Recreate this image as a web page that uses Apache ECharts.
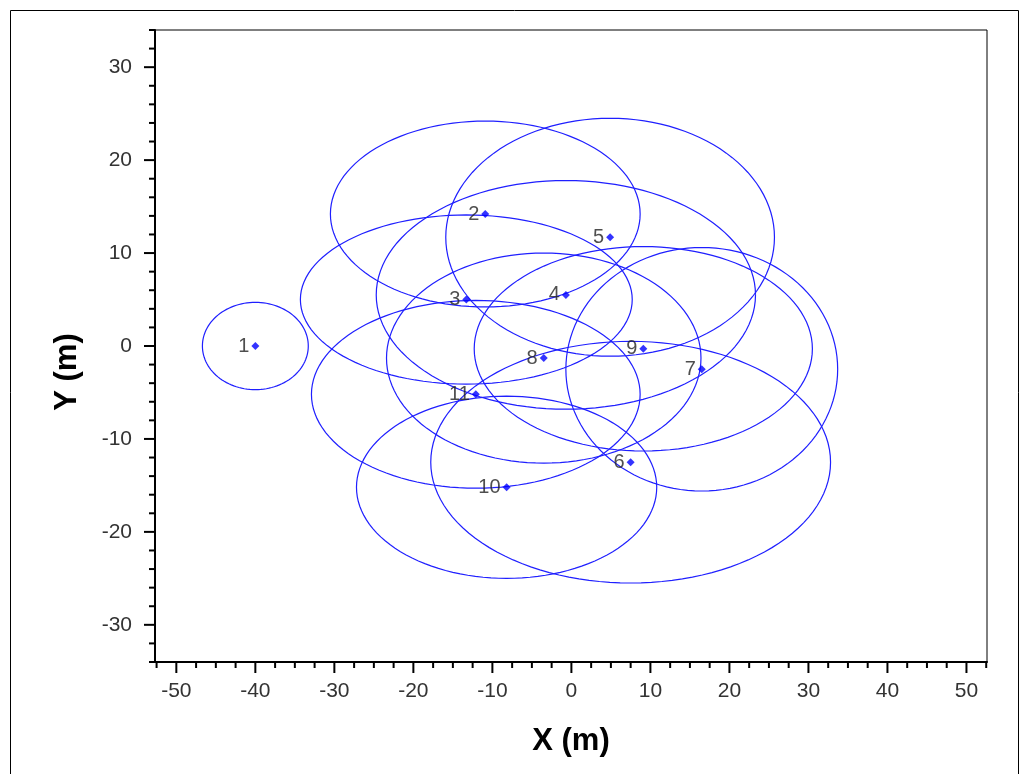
<!DOCTYPE html>
<html>
<head>
<meta charset="utf-8">
<script src="https://cdn.jsdelivr.net/npm/echarts@6/dist/echarts.min.js"></script>
<style>
html,body{margin:0;padding:0;background:#fff;}
#chart{width:1024px;height:774px;}
</style>
</head>
<body>
<div id="chart"></div>
<script>
// ---- data ----
const nodeIds = [1, 2, 3, 4, 5, 6, 7, 8, 9, 10, 11];
const nodeX   = [-40, -10.9, -13.3, -0.7, 4.9, 7.5, 16.5, -3.5, 9.1, -8.2, -12.1];
const nodeY   = [0, 14.2, 5.0, 5.5, 11.7, -12.5, -2.5, -1.3, -0.3, -15.2, -5.2];
const rangeX  = [6.7, 19.6, 21.0, 24.0, 20.8, 25.3, 17.2, 19.9, 21.4, 19.0, 20.8];
const rangeY  = [4.7, 10.0, 9.1, 12.3, 12.8, 13.0, 13.1, 11.3, 11.0, 9.8, 10.1];
const xTicks  = [-50, -40, -30, -20, -10, 0, 10, 20, 30, 40, 50];
const yTicks  = [-30, -20, -10, 0, 10, 20, 30];
const xMinorTicks = [-52.5,-47.5,-45,-42.5,-37.5,-35,-32.5,-27.5,-25,-22.5,-17.5,-15,-12.5,-7.5,-5,-2.5,2.5,5,7.5,12.5,15,17.5,22.5,25,27.5,32.5,35,37.5,42.5,45,47.5,52.5];
const yMinorTicks = [-34,-32,-28,-26,-24,-22,-18,-16,-14,-12,-8,-6,-4,-2,2,4,6,8,12,14,16,18,22,24,26,28,32,34];

const X_MIN = -52.7, X_MAX = 52.6, Y_MIN = -34, Y_MAX = 34;

const chart = echarts.init(document.getElementById('chart'), null, {renderer: 'canvas'});

const FONT = '"Liberation Sans", Arial, sans-serif';
const ellipseData = nodeIds.map((id, i) => [nodeX[i], nodeY[i], rangeX[i], rangeY[i]]);
const pointData = nodeIds.map((id, i) => ({value: [nodeX[i], nodeY[i]], name: String(id)}));

// tick marks: [value, kind] kind 0 = x major, 1 = x minor, 2 = y major, 3 = y minor
const tickData = []
  .concat(xTicks.map(v => [v, 0]))
  .concat(xMinorTicks.map(v => [v, 1]))
  .concat(yTicks.map(v => [v, 2]))
  .concat(yMinorTicks.map(v => [v, 3]));
const tickLen = [11, 6, 11, 6];

const option = {
  animation: false,
  backgroundColor: '#fff',
  graphic: [{
    type: 'rect', left: 8, top: 8, silent: true,
    shape: {width: 1008, height: 800},
    style: {fill: 'none', stroke: '#000', lineWidth: 1}
  }],
  grid: {left: 155, right: 37, top: 30, bottom: 112, show: true, borderColor: '#000', borderWidth: 1, backgroundColor: 'transparent'},
  xAxis: {
    type: 'value', min: X_MIN, max: X_MAX, position: 'bottom',
    axisLine: {show: true, onZero: false, lineStyle: {color: '#000', width: 2}},
    axisTick: {show: false},
    axisLabel: {customValues: xTicks, fontSize: 21, color: '#333', fontFamily: FONT, margin: 19},
    splitLine: {show: false},
    name: 'X (m)', nameLocation: 'middle', nameGap: 64,
    nameTextStyle: {fontSize: 31, fontWeight: 'bold', color: '#000', fontFamily: FONT}
  },
  yAxis: {
    type: 'value', min: Y_MIN, max: Y_MAX, position: 'left',
    axisLine: {show: true, onZero: false, lineStyle: {color: '#000', width: 2}},
    axisTick: {show: false},
    axisLabel: {customValues: yTicks, fontSize: 21, color: '#333', fontFamily: FONT, margin: 23},
    splitLine: {show: false},
    name: 'Y (m)', nameLocation: 'middle', nameGap: 72, nameRotate: 90,
    nameTextStyle: {fontSize: 31, fontWeight: 'bold', color: '#000', fontFamily: FONT, padding: [0, 52, 0, 0]}
  },
  series: [{
    type: 'custom',
    data: ellipseData,
    encode: {x: 0, y: 1},
    silent: true,
    renderItem: function (params, api) {
      const cx = api.value(0), cy = api.value(1), rx = api.value(2), ry = api.value(3);
      const pts = [];
      const N = 120;
      for (let k = 0; k <= N; k++) {
        const t = 2 * Math.PI * k / N;
        pts.push(api.coord([cx + rx * Math.cos(t), cy + ry * Math.sin(t)]));
      }
      return {type: 'polyline', shape: {points: pts}, style: {fill: null, stroke: '#1f1fff', lineWidth: 1.2}};
    }
  }, {
    type: 'custom',
    data: tickData,
    clip: false,
    silent: true,
    encode: {x: -1, y: -1},
    renderItem: function (params, api) {
      const v = api.value(0), kind = api.value(1);
      const len = tickLen[kind];
      let p, shape;
      if (kind < 2) {
        p = api.coord([v, Y_MIN]);
        shape = {x1: p[0], y1: p[1], x2: p[0], y2: p[1] + len};
      } else {
        p = api.coord([X_MIN, v]);
        shape = {x1: p[0], y1: p[1], x2: p[0] - len, y2: p[1]};
      }
      return {type: 'line', shape: shape, style: {stroke: '#000', lineWidth: 2}};
    }
  }, {
    type: 'scatter',
    data: pointData,
    symbol: 'diamond', symbolSize: 8,
    itemStyle: {color: '#0000ff'},
    label: {show: true, position: 'left', distance: 2, formatter: '{b}', fontSize: 20, color: '#222', fontFamily: FONT},
    z: 5
  }]
};
chart.setOption(option);
</script>
</body>
</html>
